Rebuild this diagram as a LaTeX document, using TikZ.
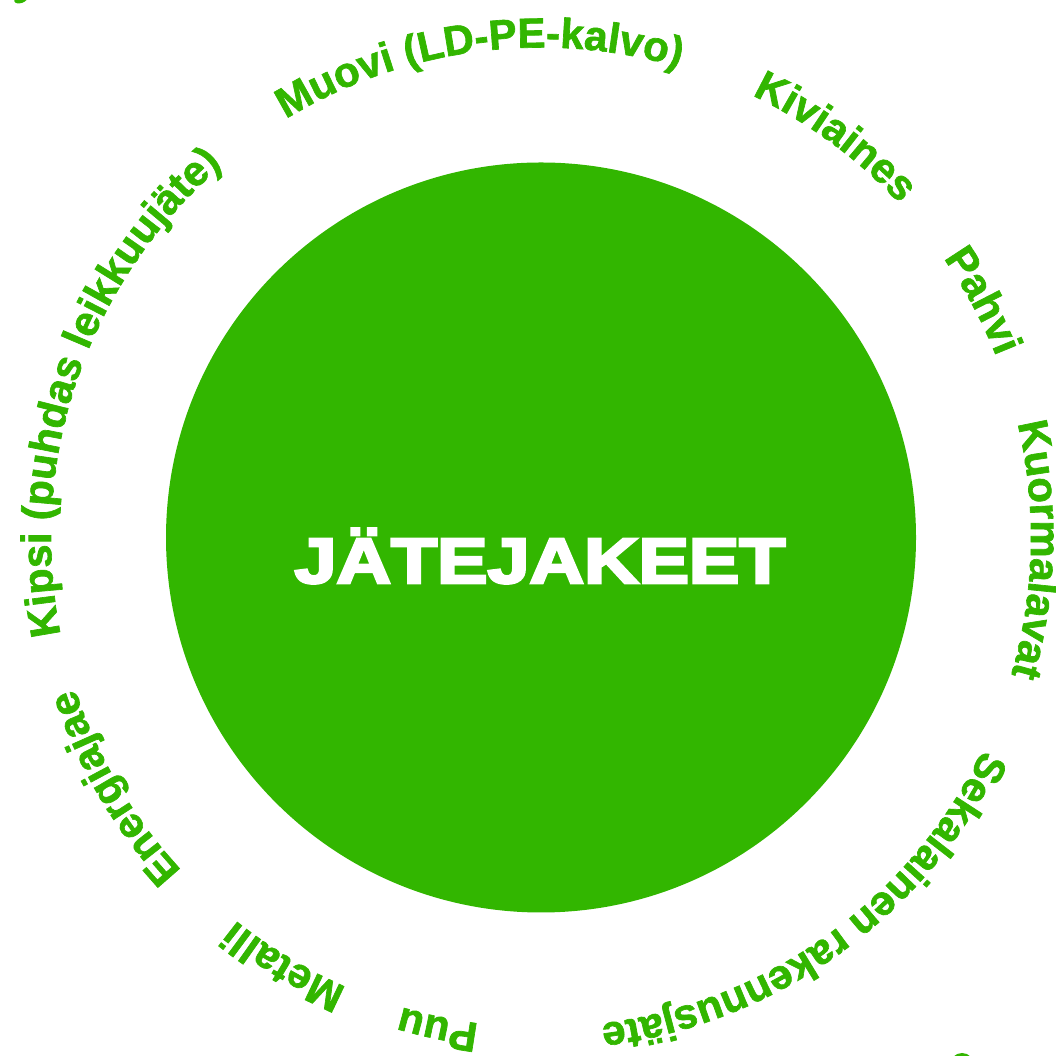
\documentclass[tikz,border=0pt]{standalone}
\usepackage{fontspec}
\usetikzlibrary{decorations.text}
\newfontfamily\labfont{Liberation Sans}[BoldFeatures={FakeBold=1.6}]
\newfontfamily\titfont{Liberation Sans}[BoldFeatures={FakeBold=4}]
\definecolor{jgreen}{RGB}{50,182,0}
\tikzset{
  hubstyle/.style={circle, fill=jgreen, minimum size=750pt, inner sep=0pt, outer sep=0pt},
  ringlab/.style={decorate, decoration={text along path, text align=center, text color=jgreen,
      text={|\labfont\bfseries\fontsize{42}{42}\selectfont|#1}}},
}
\begin{document}
\begin{tikzpicture}[x=1pt,y=1pt]
\useasboundingbox (0,0) rectangle (1056,1056);
\clip (0,0) rectangle (1056,1056);
\coordinate (C) at (541,518.5);
\node[hubstyle] (hub) at (C) {};
\node[anchor=base, text=white, xscale=1.18, inner sep=0pt] (title) at (540,473)
  {\titfont\bfseries\fontsize{64}{64}\selectfont JÄTEJAKEET};
% ring labels, clockwise, tops outward
\path[shift={(C)}, ringlab={Kipsi (puhdas leikkuujäte)}] (201:490) arc[start angle=201, end angle=121, radius=490];
\path[shift={(C)}, ringlab={Muovi (LD-PE-kalvo)}] (137.5:490) arc[start angle=137.5, end angle=57.5, radius=490];
\path[shift={(C)}, ringlab={Kiviaines}] (93.7:490) arc[start angle=93.7, end angle=13.7, radius=490];
\path[shift={(C)}, ringlab={Pahvi}] (68.2:490) arc[start angle=68.2, end angle=-11.8, radius=490];
\path[shift={(C)}, ringlab={Kuormalavat}] (38.6:490) arc[start angle=38.6, end angle=-41.4, radius=490];
\path[shift={(C)}, ringlab={Sekalainen rakennusjäte}] (-14.3:490) arc[start angle=-14.3, end angle=-94.3, radius=490];
\path[shift={(C)}, ringlab={Puu}] (-61.9:490) arc[start angle=-61.9, end angle=-141.9, radius=490];
\path[shift={(C)}, ringlab={Metalli}] (-81:490) arc[start angle=-81, end angle=-161, radius=490];
\path[shift={(C)}, ringlab={Energiajae}] (-109.6:490) arc[start angle=-109.6, end angle=-189.6, radius=490];
% cut-off fragments at the edges
\fill[jgreen, rotate around={20:(21,1057)}] (21,1057) ellipse[x radius=7, y radius=4];
\fill[jgreen] (962,-9) circle[radius=12];
\end{tikzpicture}
\end{document}
